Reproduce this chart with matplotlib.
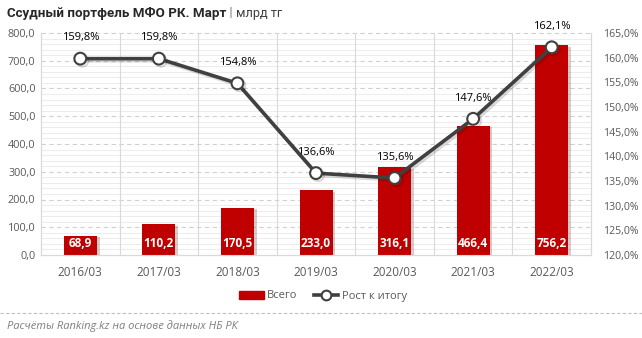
import matplotlib.pyplot as plt
import matplotlib.patheffects as pe
from matplotlib.lines import Line2D
from matplotlib.patches import Patch
import numpy as np

years = ['2016/03', '2017/03', '2018/03', '2019/03', '2020/03', '2021/03', '2022/03']
total = [68.9, 110.2, 170.5, 233.0, 316.1, 466.4, 756.2]
growth = [159.8, 159.8, 154.8, 136.6, 135.6, 147.6, 162.1]

plt.rcParams['font.family'] = ['Open Sans', 'DejaVu Sans']

red = '#C00000'
dark = '#404040'
tick_col = '#595959'

fig = plt.figure(figsize=(6.42, 3.38), dpi=100)
ax = fig.add_axes([41 / 642, 1 - 255 / 338, 550 / 642, 222 / 338])
ax2 = ax.twinx()

x = np.arange(len(years))

# bars
bars = ax.bar(x, total, width=0.42, color=red, zorder=3,
              path_effects=[pe.SimplePatchShadow(offset=(2, -1), alpha=0.2), pe.Normal()])
for xi, v in zip(x, total):
    ax.annotate(f'{v:.1f}'.replace('.', ','), (xi, 0), xytext=(0, 8.6),
                textcoords='offset points', ha='center', va='center',
                color='white', fontsize=8.5, fontweight='bold', zorder=5)

ax.set_xlim(-0.5, len(years) - 0.5)
ax.set_ylim(0, 800)
ax.set_yticks(np.arange(0, 801, 100))
ax.set_yticklabels([f'{v:.1f}'.replace('.', ',') for v in np.arange(0, 801, 100)])
ax.set_xticks(x)
ax.set_xticklabels(years)

# grid
for v in np.arange(0, 801, 20):
    if v % 100:
        ax.axhline(v, color='#ececec', lw=0.7, zorder=0)
for v in np.arange(100, 801, 100):
    ax.axhline(v, color='#d0d0d0', lw=0.8, ls=(0, (4, 3)), zorder=1, clip_on=False)
for b in np.arange(0.5, len(years) - 1, 1):
    ax.axvline(b, color='#d9d9d9', lw=0.8, zorder=1)

ax.tick_params(axis='both', which='both', length=0, colors=tick_col, labelsize=7.8)
ax.tick_params(axis='x', pad=8, labelsize=8.5)
ax.tick_params(axis='y', pad=4)
for a in (ax, ax2):
    a.spines['top'].set_visible(False)
    a.spines['left'].set_color('#d9d9d9')
    a.spines['right'].set_color('#d9d9d9')
    a.spines['bottom'].set_color('#d9d9d9')

# line
ax2.set_zorder(ax.get_zorder() + 1)
ax2.patch.set_visible(False)
ax2.plot(x, growth, color=dark, lw=2.6, marker='o', markersize=8.5,
         markerfacecolor='white', markeredgecolor=dark, markeredgewidth=1.5, zorder=4,
         path_effects=[pe.SimpleLineShadow(offset=(1.5, -1.5), alpha=0.15), pe.Normal()])
for xi, v in zip(x, growth):
    ax2.annotate(f'{v:.1f}%'.replace('.', ','), (xi, v), xytext=(0, 15),
                 textcoords='offset points', ha='center', va='center',
                 color='black', fontsize=8, fontweight='medium')
ax2.set_ylim(120, 165)
ax2.set_yticks(np.arange(120, 166, 5))
ax2.set_yticklabels([f'{v:.1f}%'.replace('.', ',') for v in np.arange(120, 166, 5)])
ax2.tick_params(axis='y', length=0, colors=tick_col, labelsize=7.6, pad=9)

# legend
handles = [Patch(color=red, label='Всего'),
           Line2D([], [], color=dark, lw=2.6, marker='o', markersize=7,
                  markerfacecolor='white', markeredgecolor=dark, markeredgewidth=1.5,
                  label='Рост к итогу')]
fig.legend(handles=handles, loc='center', bbox_to_anchor=(323 / 642, 1 - 296 / 338),
           ncol=2, frameon=False, fontsize=8, labelcolor=tick_col,
           handlelength=2.2, handletextpad=0.3, columnspacing=1.5)

# title
t1 = fig.text(7 / 642, 1 - 13 / 338, 'Ссудный портфель МФО РК. Март', fontsize=9.6,
              fontweight='bold', color='#262626', va='center', ha='left',
              family=['Roboto', 'DejaVu Sans'])
ann = plt.annotate(' | ', xy=(1, 0.5), xycoords=t1, va='center', ha='left',
                   fontsize=9.6, color='#7f7f7f', family=['Roboto', 'DejaVu Sans'])
plt.annotate('млрд тг', xy=(1, 0.5), xycoords=ann, va='center', ha='left',
             fontsize=9.2, color='#404040', family=['Roboto', 'DejaVu Sans'])

# separator and footnote
fig.add_artist(Line2D([0, 1], [1 - 313 / 338] * 2, color='#bfbfbf', lw=0.8,
                      ls=(0, (3, 2)), transform=fig.transFigure))
fig.text(7 / 642, 1 - 326 / 338, 'Расчёты Ranking.kz на основе данных НБ РК',
         fontsize=8, style='italic', color='#7f7f7f', va='center', ha='left')

fig.savefig('out.png', dpi=100)
